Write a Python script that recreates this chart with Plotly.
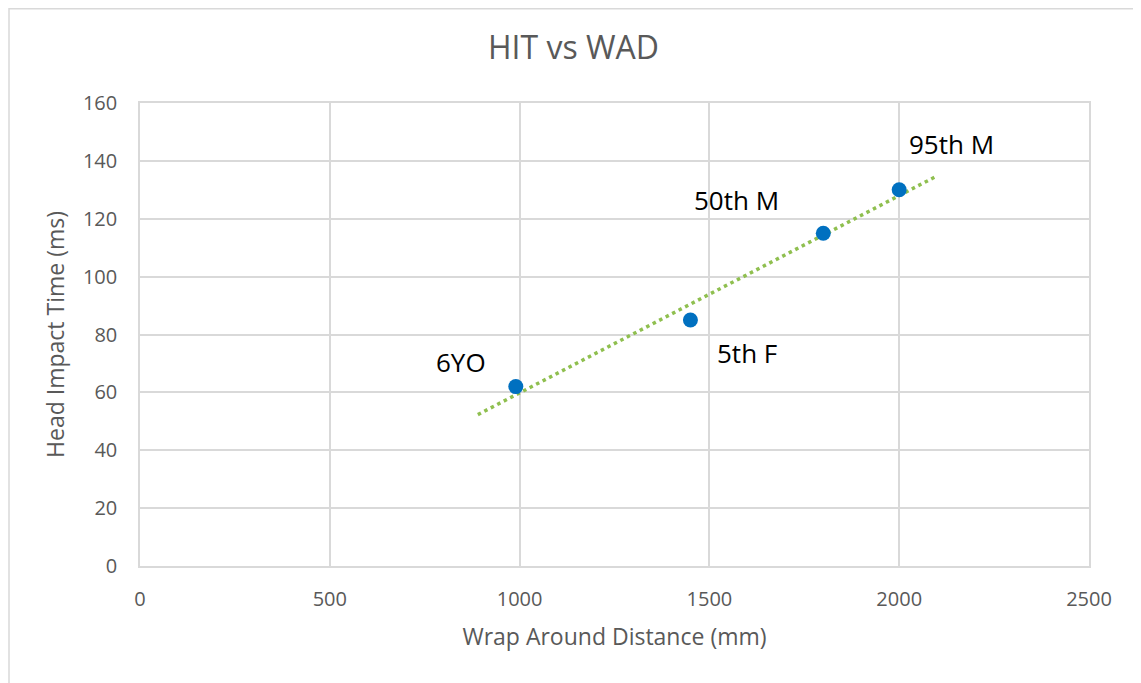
import numpy as np
import plotly.graph_objects as go

# Data
wad_mm = [990, 1450, 1800, 2000]
hit_ms = [62, 85, 115, 130]
point_labels = ["6YO", "5th F", "50th M", "95th M"]
x_ticks = [0, 500, 1000, 1500, 2000, 2500]
y_ticks = [0, 20, 40, 60, 80, 100, 120, 140, 160]

# label offsets (px) — style only
label_dx = [-55, 57, -87, 52]
label_dy = [25, -33, 33, 46]

# Linear trendline (fitted from data), extended 100 mm both sides
slope, intercept = np.polyfit(wad_mm, hit_ms, 1)
tx = np.array([min(wad_mm) - 100, max(wad_mm) + 100])
ty = slope * tx + intercept

FONT = "Open Sans"
GRID = "#d9d9d9"
TXT = "#595959"

W, H = 1141, 683
L, T = 132, 95          # page has 8px body margin
PW, PH = 949, 463
R = W - L - PW
B = H - T - PH

fig = go.Figure()
fig.add_trace(go.Scatter(
    x=tx, y=ty, mode="lines",
    line=dict(color="#8FBF4F", width=3.5, dash="3.5px,3.8px"),
    hoverinfo="skip", showlegend=False,
))
fig.add_trace(go.Scatter(
    x=wad_mm, y=hit_ms, mode="markers",
    marker=dict(color="#0070C0", size=15),
    showlegend=False,
))

for x, y, t, dx, dy in zip(wad_mm, hit_ms, point_labels, label_dx, label_dy):
    fig.add_annotation(x=x, y=y, text=t, showarrow=False,
                       xshift=dx, yshift=dy,
                       font=dict(family=FONT, size=26, color="#000000"))

# outer chart border
fig.add_shape(type="rect", xref="paper", yref="paper",
              x0=(1 - L) / PW, x1=(1132 - L) / PW,
              y0=(T + PH - 700) / PH, y1=(T + PH - 0.75) / PH,
              line=dict(color="#d9d9d9", width=1.5), layer="below")

fig.update_layout(
    width=W, height=H,
    margin=dict(l=L, r=R, t=T, b=B, autoexpand=False),
    paper_bgcolor="white", plot_bgcolor="white",
    title=dict(text="HIT vs WAD", x=(573.5 - 8) / W, xref="container", xanchor="center",
               y=1 - 40 / H, yref="container", yanchor="middle",
               font=dict(family=FONT, size=32, color=TXT)),
    font=dict(family=FONT, color=TXT),
)
fig.update_xaxes(
    range=[0, 2500], tickvals=x_ticks, ticktext=[str(v) for v in x_ticks],
    showgrid=True, gridcolor=GRID, gridwidth=1.5, zeroline=False,
    showline=True, linecolor=GRID, linewidth=1.5, mirror=True,
    ticks="", ticklabelstandoff=14,
    tickfont=dict(family=FONT, size=20, color=TXT),
    title=dict(text="Wrap Around Distance (mm)", standoff=18,
               font=dict(family=FONT, size=23, color=TXT)),
)
fig.update_yaxes(
    range=[0, 160], tickvals=y_ticks, ticktext=[str(v) for v in y_ticks],
    showgrid=True, gridcolor=GRID, gridwidth=1.5, zeroline=False,
    showline=True, linecolor=GRID, linewidth=1.5, mirror=True,
    ticks="", ticklabelstandoff=17,
    tickfont=dict(family=FONT, size=20, color=TXT),
    title=dict(text="Head Impact Time (ms)", standoff=12,
               font=dict(family=FONT, size=23, color=TXT)),
)

fig.write_html("out.html")
